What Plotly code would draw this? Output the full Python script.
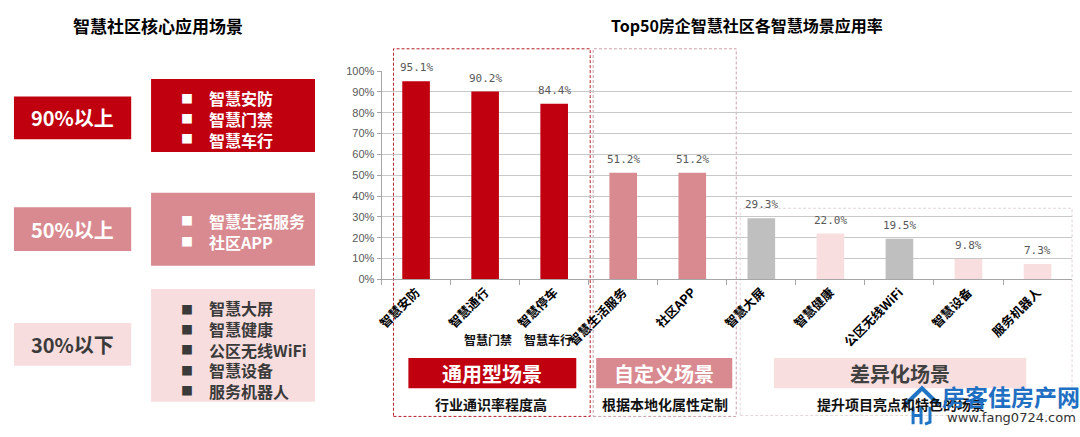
import plotly.graph_objects as go

W, H = 1080, 437

# ---------------- data ----------------
categories = ["智慧安防", "智慧通行", "智慧停车", "智慧生活服务", "社区APP",
              "智慧大屏", "智慧健康", "公区无线WiFi", "智慧设备", "服务机器人"]
values = [95.1, 90.2, 84.4, 51.2, 51.2, 29.3, 22.0, 19.5, 9.8, 7.3]
bar_colors = ["#C0000F", "#C0000F", "#C0000F", "#D98A90", "#D98A90",
              "#BFBFBF", "#F8DEDF", "#BFBFBF", "#F8DEDF", "#F8DEDF"]
y_ticks = [0, 10, 20, 30, 40, 50, 60, 70, 80, 90, 100]
y_tick_labels = [f"{v}%" for v in y_ticks]

level_labels = ["90%以上", "50%以上", "30%以下"]
level_items = [["智慧安防", "智慧门禁", "智慧车行"],
               ["智慧生活服务", "社区APP"],
               ["智慧大屏", "智慧健康", "公区无线WiFi", "智慧设备", "服务机器人"]]
group_titles = ["通用型场景", "自定义场景", "差异化场景"]
group_notes = ["行业通识率程度高", "根据本地化属性定制", "提升项目亮点和特色的场景"]
extra_labels = ["智慧门禁", "智慧车行"]

FONT = "Noto Sans CJK SC"
RED = "#C0000F"
PINK = "#D98A90"
LIGHT = "#F8DEDF"
DARK = "#3A3A3A"


def px(x):
    return x / W


def py(y):
    return 1 - y / H


fig = go.Figure()
fig.add_trace(go.Bar(
    x=categories, y=values, marker_color=bar_colors, width=0.4,
    marker_line_width=0, hoverinfo="skip", showlegend=False,
))

shapes = []
ann = []


def rect(x0, y0, x1, y1, fill, line=None, dash=None, lw=1):
    d = dict(type="rect", xref="paper", yref="paper",
             x0=px(x0), x1=px(x1), y0=py(y1), y1=py(y0),
             fillcolor=fill, layer="below")
    if line:
        d["line"] = dict(color=line, width=lw, dash=dash)
    else:
        d["line"] = dict(width=0)
    shapes.append(d)


def text(x, y, s, size, color="#000", weight="bold", xanchor="center",
         family=FONT, yanchor="middle", align="center"):
    ann.append(dict(xref="paper", yref="paper", x=px(x), y=py(y), text=s,
                    showarrow=False, xanchor=xanchor, yanchor=yanchor, align=align,
                    font=dict(family=family, size=size, color=color, weight=weight)))


# ---------------- left panel ----------------
text(152, 20, "智慧社区核心应用场景", 17)

left_boxes = [(93, 137), (207, 252), (326, 370)]
right_boxes = [(75, 150), (192, 267), (291, 407)]
fills = [RED, PINK, "#F7DDDE"]
txt_cols = ["#FFFFFF", "#FFFFFF", DARK]
line_starts = [95, 221, 312]
LINE_H = 20.8
for i in range(3):
    ly0, ly1 = left_boxes[i]
    rect(7, ly0, 125, ly1, fills[i])
    text(66, (ly0 + ly1) / 2, level_labels[i], 20, txt_cols[i])
    ry0, ry1 = right_boxes[i]
    rect(145, ry0, 310, ry1, fills[i])
    items = level_items[i]
    for j in range(len(items)):
        text(181, line_starts[i] + j * LINE_H, "■", 12, txt_cols[i])
    mid = line_starts[i] + (len(items) - 1) * LINE_H / 2
    text(201, mid, "<br>".join(items), 16, txt_cols[i], xanchor="left", align="left")

# ---------------- right chart ----------------
text(745, 20, "Top50房企智慧社区各智慧场景应用率", 16)

# dashed group boxes
rect(389, 44, 587, 422, "rgba(0,0,0,0)", line="#B0202A", dash="3px,2px", lw=1)
rect(590, 44, 734, 422, "rgba(0,0,0,0)", line="#C9A0A8", dash="3px,2px", lw=1)
rect(738, 208, 1072, 421, "rgba(0,0,0,0)", line="#E2D6D8", dash="3px,2px", lw=1)

# group title boxes
gb = [(404, 573, RED, "#FFFFFF"), (593, 730, PINK, "#FFFFFF"), (772, 1026, LIGHT, "#404040")]
for (x0, x1, f, c), t in zip(gb, group_titles):
    rect(x0, 362, x1, 393, f)
    text((x0 + x1) / 2, 378, t, 20, c)
note_x = [487, 662, 900]
for x, n in zip(note_x, group_notes):
    text(x, 409, n, 14, "#111111")

# extra labels under rotated ticks
text(484, 343, extra_labels[0], 12, "#111111")
text(545, 343, extra_labels[1], 12, "#111111")

# data labels
for c, v in zip(categories, values):
    ann.append(dict(xref="x", yref="y", x=c, y=v, text=f"{v:.1f}%",
                    showarrow=False, yanchor="bottom", yshift=5,
                    font=dict(family="DejaVu Sans Mono", size=11, color="#595959")))

# watermark (logo drawn as shapes)
shapes.append(dict(type="path", xref="paper", yref="paper",
                   path=f"M {px(904)},{py(410)} L {px(921)},{py(393)} L {px(938)},{py(410)}",
                   line=dict(color="#1F74C4", width=4)))
shapes.append(dict(type="path", xref="paper", yref="paper",
                   path=(f"M {px(912)},{py(412)} L {px(912)},{py(430)} "
                         f"M {px(912)},{py(421)} L {px(920)},{py(421)} "
                         f"M {px(920)},{py(412)} L {px(920)},{py(430)} "
                         f"M {px(929)},{py(412)} L {px(929)},{py(428)} L {px(924)},{py(430)}"),
                   line=dict(color="#1F74C4", width=3)))
text(1011, 401, "房客佳房产网", 23, "#1F6FC2")
text(1011, 423, "www.fang0724.com", 13, "#333333", weight="normal", family="DejaVu Sans")

fig.update_layout(
    width=W, height=H, margin=dict(l=0, r=0, t=0, b=0),
    paper_bgcolor="#FFFFFF", plot_bgcolor="rgba(0,0,0,0)",
    shapes=shapes, annotations=ann, bargap=0.6,
    xaxis=dict(domain=[px(377), px(1072)], range=[-0.5, 9.5],
               tickangle=-45, ticks="outside", tickson="boundaries", ticklen=5,
               tickcolor="#A6A6A6", showline=True, linecolor="#A6A6A6",
               tickfont=dict(family=FONT, size=12.5, color="#000", weight="bold"),
               showgrid=False, fixedrange=True),
    yaxis=dict(domain=[py(281), py(67)], range=[0, 100], tickvals=y_ticks,
               ticktext=y_tick_labels, showgrid=True, gridcolor="#C8C8C8",
               showline=True, linecolor="#A6A6A6", ticks="outside", ticklen=4,
               tickcolor="#A6A6A6", zeroline=False,
               tickfont=dict(family="Liberation Sans", size=11, color="#595959"),
               fixedrange=True),
)

fig.write_html("out.html")
